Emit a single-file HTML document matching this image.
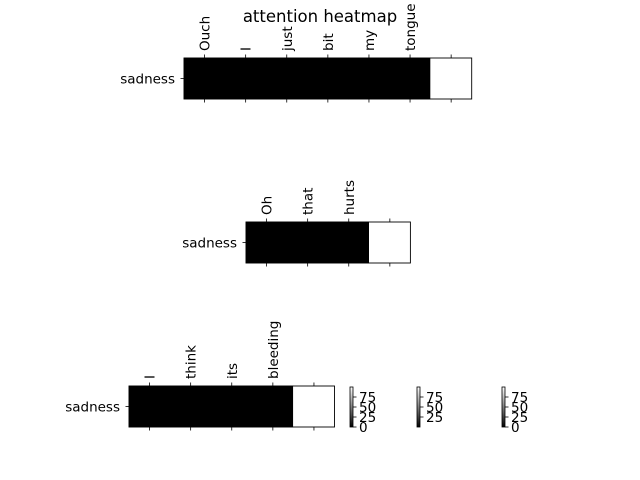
<!DOCTYPE html>
<html><head><meta charset="utf-8"><style>
body{margin:0;background:#fff}
svg{display:block;font-family:"DejaVu Sans","Liberation Sans",sans-serif}
</style></head><body>
<svg id="c" width="640" height="480" viewBox="0 0 640 480">
<defs><linearGradient id="g" x1="0" y1="1" x2="0" y2="0"><stop offset="0" stop-color="#000"/><stop offset="1" stop-color="#fff"/></linearGradient></defs>
<text x="320" y="22" text-anchor="middle" font-size="16.5">attention heatmap</text>
</svg>
<script>
const words1 = ["Ouch","I","just","bit","my","tongue",""];
const values1 = [0,0,0,0,0,0,100];
const words2 = ["Oh","that","hurts",""];
const values2 = [0,0,0,100];
const words3 = ["I","think","its","bleeding",""];
const values3 = [0,0,0,0,100];
const rowLabels = ["sadness"];
const cbTicks1 = ["0","25","50","75"];
const cbTicks2 = ["25","50","75"];
const cbTicks3 = ["0","25","50","75"];
const NS="http://www.w3.org/2000/svg";
const svg=document.getElementById('c');
function mk(t,a,p){const e=document.createElementNS(NS,t);for(const k in a)e.setAttribute(k,a[k]);(p||svg).appendChild(e);return e;}
const CW=41.1;
const FS=13.5;
function heat(x0,y0,words,vals,idx){
  const g=mk('g',{});
  
  
  const h=41;
  vals.forEach((v,i)=>{
    const c=Math.round(255*v/100);
    const col=`rgb(${c},${c},${c})`;
    const r=mk('rect',{x:x0+i*CW,y:y0,width:CW,height:h,fill:col,stroke:col,'stroke-width':0.6},g);
    
    
  });
  vals.forEach((v,i)=>{
    const cx=x0+(i+0.5)*CW;
    mk('line',{x1:cx,y1:y0,x2:cx,y2:y0-3.5,stroke:'#000','stroke-width':0.8},g);
    mk('line',{x1:cx,y1:y0+h,x2:cx,y2:y0+h+3.5,stroke:'#000','stroke-width':0.8},g);
    if(words[i]){
      const t=mk('text',{x:0,y:0,'font-size':FS,transform:`translate(${cx+5},${y0-7}) rotate(-90)`},g);
      t.textContent=words[i];
      
      
    }
  });
  mk('rect',{x:x0,y:y0,width:CW*vals.length,height:h,fill:'none',stroke:'#000','stroke-width':0.9},g);
  mk('line',{x1:x0,y1:y0+h/2,x2:x0-3.5,y2:y0+h/2,stroke:'#000','stroke-width':0.8},g);
  const yl=mk('text',{x:x0-9,y:y0+h/2+5,'text-anchor':'end','font-size':FS},g);
  yl.textContent=rowLabels[0];
  
  
}
heat(184,58,words1,values1,1);
heat(246,222,words2,values2,2);
heat(129,386,words3,values3,3);
function cbar(x,ticks,idx){
  const g=mk('g',{});
  
  
  const y0=387,y1=427;
  mk('rect',{x:x,y:y0,width:3,height:y1-y0,fill:'url(#g)',stroke:'#000','stroke-width':0.8},g);
  ticks.forEach(t=>{
    const y=y1-(+t/100)*(y1-y0);
    mk('line',{x1:x+3,y1:y,x2:x+6.5,y2:y,stroke:'#000','stroke-width':0.8},g);
    const tx=mk('text',{x:x+9,y:y+5,'font-size':FS},g);
    tx.textContent=t;
    
    
  });
}
cbar(350,cbTicks1,1);
cbar(417,cbTicks2,2);
cbar(502,cbTicks3,3);
</script>
</body></html>
